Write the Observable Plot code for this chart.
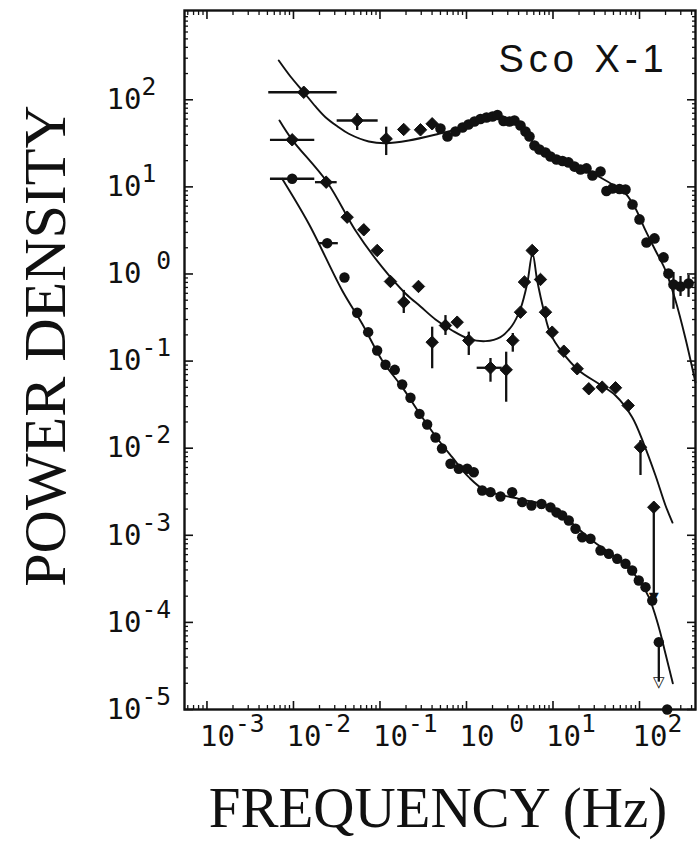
<!DOCTYPE html>
<html>
<head>
<meta charset="utf-8">
<script src="https://cdn.jsdelivr.net/npm/d3@7"></script>
<script src="https://cdn.jsdelivr.net/npm/@observablehq/plot@0.6"></script>
<style>
  html, body { margin: 0; padding: 0; background: #fff; }
  #chart { width: 698px; height: 842px; }
</style>
</head>
<body>
<div id="chart"></div>
<script>
// ---- Axis ticks -----------------------------------------------------------
const xTicks = [1e-3, 1e-2, 1e-1, 1, 10, 100];
const xTickLabels = ["10^-3", "10^-2", "10^-1", "10^ 0", "10^1", "10^2"];
const yTicks = [1e2, 1e1, 1, 1e-1, 1e-2, 1e-3, 1e-4, 1e-5];
const yTickLabels = ["10^2", "10^1", "10^ 0", "10^-1", "10^-2", "10^-3", "10^-4", "10^-5"];
const minorSteps = [2, 3, 4, 5, 6, 7, 8, 9];
const xDecades = [1e-4, 1e-3, 1e-2, 1e-1, 1, 10, 100];
const yDecades = [1e-5, 1e-4, 1e-3, 1e-2, 1e-1, 1, 10, 100];
const xDomain = [0.00055, 444];
const yDomain = [1e-5, 1059];

// ---- Upper spectrum: frequency (Hz) and power density ----------------------
const upperFreq = [0.01315, 0.0545, 0.118, 0.188, 0.294, 0.401, 0.500, 0.603, 0.746, 0.899,
  1.054, 1.237, 1.451, 1.703, 1.998, 2.282, 2.677, 3.141, 3.588, 4.210,
  4.810, 5.350, 6.11, 6.98, 8.19, 9.36, 10.98, 12.88, 15.11, 17.73,
  20.79, 24.4, 28.6, 35.4, 41.5, 48.7, 58.7, 68.9, 83.0, 100,
  120.5, 149, 189.5, 216, 247, 298, 369];
const upperPower = [122, 57.8, 35.6, 45.6, 45.2, 53.0, 46.8, 37.9, 43.3, 48.1,
  52.0, 56.4, 60.2, 62.6, 64.3, 66.9, 57.1, 56.4, 57.8, 50.7,
  43.3, 37.9, 29.9, 26.9, 24.8, 22.3, 20.6, 19.8, 19.1, 17.1,
  15.8, 16.3, 13.5, 15.0, 8.97, 9.58, 9.46, 9.33, 6.28, 4.23,
  2.30, 2.56, 1.55, 1.01, 0.758, 0.719, 0.778];
// [freq, power, freqLow, freqHigh]
const upperBarsX = [[0.01315, 122, 0.00518, 0.0320], [0.0545, 57.8, 0.0320, 0.0953]];
// [freq, powerLow, powerHigh]
const upperBarsY = [[0.0545, 44.4, 69.1], [0.118, 22.9, 48.5], [247, 0.393, 1.04], [298, 0.552, 0.936], [369, 0.538, 0.961]];
const upperFitFreq = [0.00676, 0.00923, 0.01315, 0.01796, 0.02344, 0.0323, 0.0436, 0.0742, 0.1158, 0.2153,
  0.4784, 0.746, 1.112, 1.658, 2.282, 3.227, 4.441, 5.794, 8.19, 12.21,
  20.79, 35.4, 52.8, 68.9, 89.9, 117.3, 153, 199.8, 260.8, 340, 444];
const upperFitPower = [282, 185, 122, 83.8, 63.1, 49.4, 40.7, 33.2, 31.7, 34.1,
  40.7, 45.6, 54.9, 62.6, 66.0, 59.4, 46.8, 33.2, 24.8, 20.6,
  16.7, 12.8, 10.1, 8.40, 5.65, 3.16, 1.86, 1.10, 0.496, 0.182, 0.0568];

// ---- Middle spectrum (with the ~6 Hz QPO) ----------------------------------
const middleFreq = [0.00966, 0.02388, 0.04176, 0.06498, 0.09281, 0.1322, 0.1884, 0.2787, 0.4013, 0.5717,
  0.7808, 1.063, 1.895, 2.877, 3.43, 4.21, 4.68, 5.749, 7.17, 8.19,
  9.79, 13.33, 19.05, 25.94, 37.06, 52.8, 74.0, 102.7, 146.3];
const middlePower = [34.7, 11.32, 4.488, 3.217, 1.861, 0.820, 0.4746, 0.719, 0.1648, 0.2563,
  0.2797, 0.1724, 0.0838, 0.0794, 0.1724, 0.3643, 0.809, 1.861, 0.865, 0.3643,
  0.2148, 0.1299, 0.0816, 0.0481, 0.0502, 0.0494, 0.0309, 0.01027, 0.0021];
const middleBarsX = [[0.00966, 34.7, 0.00542, 0.01763], [0.02388, 11.32, 0.01796, 0.0320], [1.895, 0.0838, 1.329, 2.587]];
const middleBarsY = [[0.1884, 0.352, 0.647], [0.4013, 0.0816, 0.245], [0.5717, 0.197, 0.333], [1.063, 0.116, 0.2148],
  [1.895, 0.0572, 0.1071], [2.877, 0.0337, 0.1265], [3.43, 0.1265, 0.2075], [102.7, 0.00486, 0.01226], [146.3, 0.000195, 0.0021]];
const middleLimit = [[146.3, 0.000195]];
const middleFitFreq = [0.00689, 0.00966, 0.02453, 0.05209, 0.106, 0.1971, 0.2939, 0.4382, 0.6834, 1.063,
  1.658, 2.472, 3.375, 4.21, 5.03, 5.794, 6.567, 7.826, 9.358, 12.78,
  19.88, 33.84, 52.8, 82.3, 112.1, 153.1, 199.8, 240.7];
const middleFitPower = [57.8, 34.7, 11.32, 3.158, 1.197, 0.5972, 0.4235, 0.3003, 0.2246, 0.1803,
  0.1693, 0.1881, 0.2563, 0.3985, 0.7719, 1.719, 0.842, 0.381, 0.2058, 0.1265,
  0.078, 0.0549, 0.0403, 0.0227, 0.01123, 0.00486, 0.0022, 0.0014];

// ---- Lower spectrum ---------------------------------------------------------
const lowerFreq = [0.00966, 0.02453, 0.03887, 0.0545, 0.07305, 0.09281, 0.1158, 0.1483, 0.1806, 0.2252,
  0.2862, 0.3512, 0.4382, 0.5209, 0.6531, 0.8148, 1.019, 1.214, 1.519, 1.895,
  2.472, 3.375, 4.405, 5.642, 7.364, 9.358, 10.98, 12.78, 15.23, 18.2,
  21.76, 27.13, 35.4, 44.17, 55.23, 68.9, 82.3, 98.1, 117.3, 140.3,
  167.2, 209];
const lowerPower = [12.39, 2.257, 0.912, 0.3585, 0.2148, 0.1323, 0.0907, 0.0794, 0.0539, 0.0379,
  0.0248, 0.0187, 0.01327, 0.00992, 0.00662, 0.0058, 0.0058, 0.0053, 0.00327, 0.00313,
  0.00279, 0.00313, 0.0024, 0.0022, 0.00229, 0.00209, 0.00183, 0.00169, 0.00148, 0.00119,
  0.00095, 0.000912, 0.000669, 0.000613, 0.000537, 0.000471, 0.000394, 0.000303, 0.000254, 0.000178,
  0.0000593, 0.00001];
const lowerBarsX = [[0.00966, 12.39, 0.00542, 0.01763], [0.02453, 2.257, 0.0195, 0.0330]];
const lowerBarsY = [[167.2, 0.0000206, 0.0000593]];
const lowerLimit = [[167.2, 0.0000206]];
const lowerFitFreq = [0.0074, 0.01503, 0.03656, 0.06225, 0.106, 0.1806, 0.3075, 0.4784, 0.6834, 1.063,
  1.658, 4.024, 9.79, 15.23, 28.39, 52.8, 89.9, 128.1, 167.2, 199.8, 242.7];
const lowerFitPower = [12.39, 3.771, 0.6465, 0.268, 0.1016, 0.0502, 0.0227, 0.01226, 0.00788, 0.00465,
  0.00327, 0.00262, 0.0021, 0.00148, 0.000872, 0.00056, 0.000345, 0.000195, 0.0000881, 0.0000436, 0.00002];

// ---- Build tables -----------------------------------------------------------
const pairs = (fs, ps) => fs.map((f, i) => ({f, p: ps[i]}));
const upper = pairs(upperFreq, upperPower);
const middle = pairs(middleFreq, middlePower);
const lower = pairs(lowerFreq, lowerPower);
const upperFit = pairs(upperFitFreq, upperFitPower);
const middleFit = pairs(middleFitFreq, middleFitPower);
const lowerFit = pairs(lowerFitFreq, lowerFitPower);

const inside = (d, [a, b]) => d >= a && d <= b;
const xMinor = xDecades.flatMap(d => minorSteps.map(k => k * d)).filter(v => inside(v, xDomain));
const yMinor = yDecades.flatMap(d => minorSteps.map(k => k * d)).filter(v => inside(v, yDomain));
const xLabel = new Map(xTicks.map((t, i) => [t, xTickLabels[i]]));
const yLabel = new Map(yTicks.map((t, i) => [t, yTickLabels[i]]));

const ink = "#111";
const monoFont = "DejaVu Sans Mono";
const serifFont = "Liberation Serif";

const fitLine = data => Plot.line(data, {x: "f", y: "p", stroke: ink, strokeWidth: 1.9, curve: "catmull-rom"});
const hBars = data => Plot.ruleY(data, {y: d => d[1], x1: d => d[2], x2: d => d[3], stroke: ink, strokeWidth: 2.3});
const vBars = data => Plot.ruleX(data, {x: d => d[0], y1: d => d[1], y2: d => d[2], stroke: ink, strokeWidth: 2.3});

const svg = Plot.plot({
  width: 698,
  height: 842,
  marginLeft: 184,
  marginRight: 3,
  marginTop: 10,
  marginBottom: 133,
  style: {background: "white", color: ink},
  x: {type: "log", domain: xDomain},
  y: {type: "log", domain: yDomain},
  marks: [
    Plot.frame({stroke: ink, strokeWidth: 2.4}),
    // inward tick marks on all four sides
    Plot.axisX(xTicks, {anchor: "bottom", tickSize: -8, strokeWidth: 1.6, fill: null, label: null}),
    Plot.axisX(xMinor, {anchor: "bottom", tickSize: -4, strokeWidth: 1.3, fill: null, label: null}),
    Plot.axisX(xTicks, {anchor: "top", tickSize: -8, strokeWidth: 1.6, fill: null, label: null}),
    Plot.axisX(xMinor, {anchor: "top", tickSize: -4, strokeWidth: 1.3, fill: null, label: null}),
    Plot.axisY(yTicks, {anchor: "left", tickSize: -9, strokeWidth: 1.6, fill: null, label: null}),
    Plot.axisY(yMinor, {anchor: "left", tickSize: -4, strokeWidth: 1.3, fill: null, label: null}),
    Plot.axisY(yTicks, {anchor: "right", tickSize: -9, strokeWidth: 1.6, fill: null, label: null}),
    Plot.axisY(yMinor, {anchor: "right", tickSize: -4, strokeWidth: 1.3, fill: null, label: null}),
    // tick labels
    Plot.axisX(xTicks, {anchor: "bottom", tickSize: 0, tickPadding: 16, textAnchor: "start", dx: -7,
      tickFormat: d => xLabel.get(d), fontSize: 29, fontFamily: monoFont, label: null}),
    Plot.axisY(yTicks, {anchor: "left", tickSize: 0, tickPadding: 78, textAnchor: "start",
      tickFormat: d => yLabel.get(d), fontSize: 29, fontFamily: monoFont, label: null}),
    // model fits
    fitLine(upperFit),
    fitLine(middleFit),
    fitLine(lowerFit),
    // error bars and limits
    hBars(upperBarsX), vBars(upperBarsY),
    hBars(middleBarsX), vBars(middleBarsY),
    hBars(lowerBarsX), vBars(lowerBarsY),
    Plot.text(middleLimit, {x: d => d[0], y: d => d[1], text: () => "\u25BC", fontSize: 13, fill: ink, fontFamily: "DejaVu Sans"}),
    Plot.text(lowerLimit, {x: d => d[0], y: d => d[1], text: () => "\u25BD", fontSize: 15, fill: ink, fontFamily: "DejaVu Sans", fontWeight: "bold"}),
    // data points
    Plot.dot(upper.slice(0, 6), {x: "f", y: "p", symbol: "diamond2", r: 5.6, fill: ink, stroke: ink, strokeWidth: 1}),
    Plot.dot(upper.slice(6), {x: "f", y: "p", symbol: "circle", r: 5.3, fill: ink}),
    Plot.dot(middle, {x: "f", y: "p", symbol: "diamond2", r: 5.6, fill: ink, stroke: ink, strokeWidth: 1}),
    Plot.dot(lower, {x: "f", y: "p", symbol: "circle", r: 5.2, fill: ink}),
    // labels
    Plot.text(["Sco X-1"], {frameAnchor: "top-left", dx: 314, dy: 49, textAnchor: "start", lineAnchor: "middle",
      fontSize: 38, fontFamily: "Liberation Sans", fill: ink}),
    Plot.text(["POWER DENSITY"], {frameAnchor: "left", dx: -139, dy: -14, rotate: -90, textAnchor: "middle",
      lineAnchor: "middle", fontSize: 60, fontFamily: serifFont, fill: ink}),
    Plot.text(["FREQUENCY (Hz)"], {frameAnchor: "bottom", dx: -2, dy: 99, textAnchor: "middle",
      lineAnchor: "middle", fontSize: 57, fontFamily: serifFont, fill: ink})
  ]
});

// Turn "10^n" tick strings into a base with a raised exponent
d3.select(svg).selectAll("text").each(function () {
  const s = this.textContent;
  const k = s.indexOf("^");
  if (k < 0) return;
  const node = d3.select(this);
  node.text(s.slice(0, k));
  node.append("tspan").attr("dy", -14).attr("font-size", "85%").text(s.slice(k + 1));
});
d3.select(svg).selectAll("text")
  .filter(function () { return this.textContent === "Sco X-1"; })
  .style("letter-spacing", "5px");

document.getElementById("chart").appendChild(svg);
</script>
</body>
</html>
